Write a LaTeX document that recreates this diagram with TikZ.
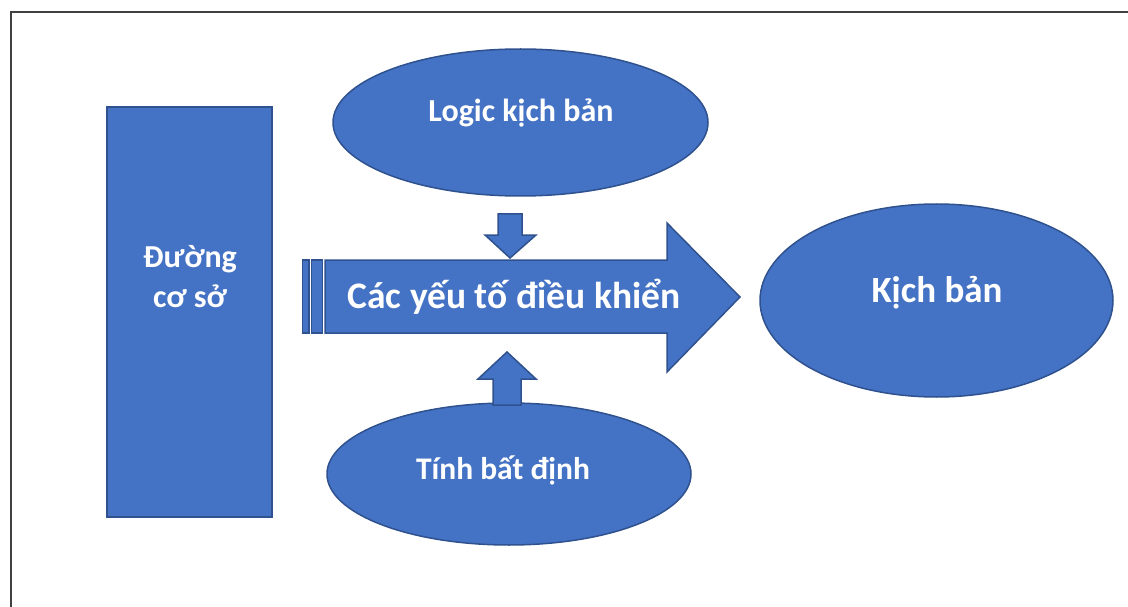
\documentclass[tikz,border=0pt]{standalone}
\usepackage{fontspec}
\setmainfont{Carlito}
\usetikzlibrary{shapes.geometric}
\definecolor{boxblue}{HTML}{4472C4}
\definecolor{boxedge}{HTML}{2F528F}
\definecolor{framegray}{HTML}{404040}
\begin{document}
\begin{tikzpicture}[x=1pt,y=-1pt,
  shapebox/.style={fill=boxblue, draw=boxedge, line width=1.5pt},
  oval/.style={shapebox, ellipse, inner sep=0pt},
  txt/.style={text=white, font=\bfseries\fontsize{32}{40}\selectfont, anchor=base, inner sep=0pt},
  bigtxt/.style={txt, font=\bfseries\fontsize{37}{44}\selectfont},
]
\useasboundingbox (0,0) rectangle (1128,607);
\draw[framegray, line width=2pt] (1140,12.5) -- (11,12.5) -- (11,620);

% baseline rectangle
\node[shapebox, rectangle, minimum width=165pt, minimum height=410pt, inner sep=0pt] (base) at (189.5,312) {};
\node[txt, align=center, anchor=base] (basetxt) at (190,307) {Đường\\cơ sở};

% top ellipse
\node[oval, minimum width=375pt, minimum height=147pt] (logic) at (520.5,122.5) {};
\node[txt] (logictxt) at (521,122) {Logic kịch bản};

% bottom ellipse
\node[oval, minimum width=364pt, minimum height=142pt] (unc) at (509,474) {};
\node[txt, font=\bfseries\fontsize{31.5}{40}\selectfont] (unctxt) at (503,479) {Tính bất định};

% right ellipse
\node[oval, minimum width=353pt, minimum height=193pt] (scen) at (936.5,300.5) {};
\node[bigtxt] (scentxt) at (937,302) {Kịch bản};

% striped big arrow
\draw[shapebox] (302.7,260) rectangle (309,333);
\draw[shapebox] (311.7,260) rectangle (322.7,333);
\draw[shapebox, line join=miter] (325,260) -- (667,260) -- (667,223) -- (740,297)
   -- (667,372) -- (667,333) -- (325,333) -- cycle;
\node[txt, font=\bfseries\fontsize{37.5}{44}\selectfont] (drivers) at (514,308) {Các yếu tố điều khiển};

% down arrow
\draw[shapebox, line join=miter] (498,214) -- (522,214) -- (522,235) -- (536,235)
   -- (510,258) -- (485,235) -- (498,235) -- cycle;

% up arrow
\draw[shapebox, line join=miter] (493,405) -- (521,405) -- (521,379) -- (536,379)
   -- (507,352) -- (478,379) -- (493,379) -- cycle;
\end{tikzpicture}
\end{document}
